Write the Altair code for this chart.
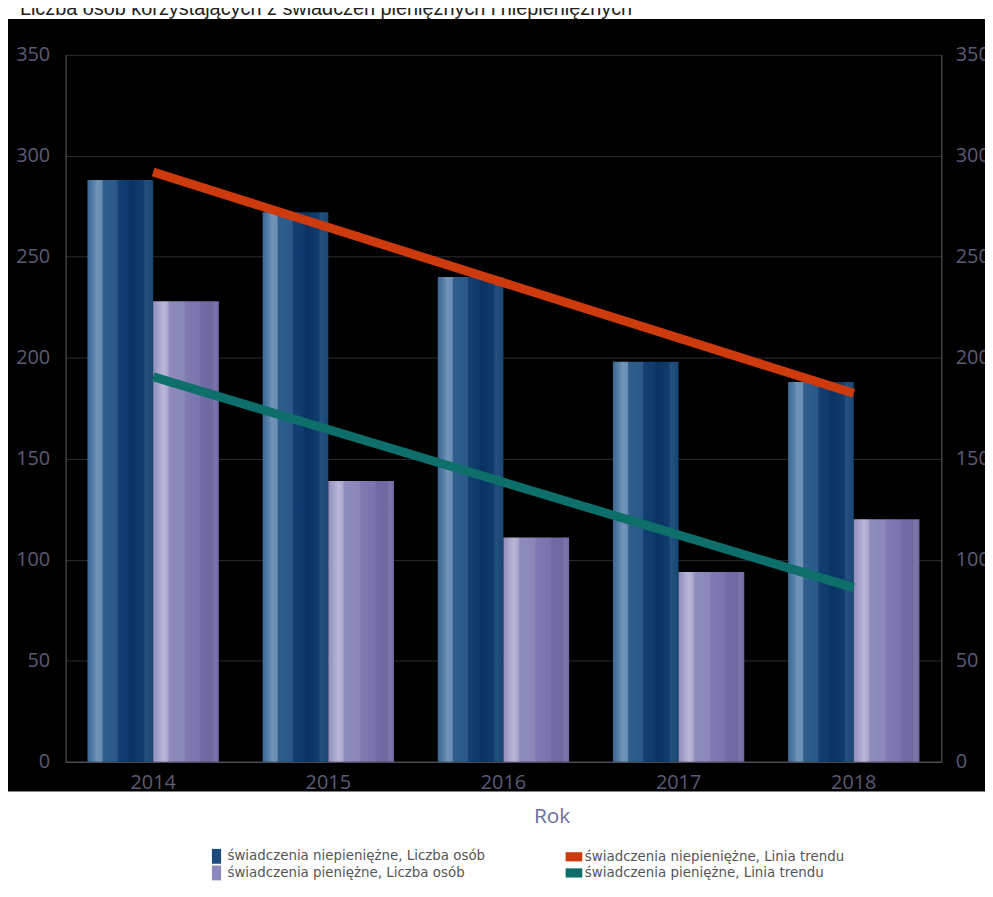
import altair as alt
import pandas as pd

# ---- data ----
years = ["2014", "2015", "2016", "2017", "2018"]
niepieniezne = [288, 272, 240, 198, 188]
pieniezne = [228, 139, 111, 94, 120]

S_NIEP = "świadczenia niepieniężne, Liczba osób"
S_PIEN = "świadczenia pieniężne, Liczba osób"
T_NIEP = "świadczenia niepieniężne, Linia trendu"
T_PIEN = "świadczenia pieniężne, Linia trendu"

legend_order = [S_NIEP, S_PIEN, T_NIEP, T_PIEN]
legend_colors = ["#1d4a7c", "#8c8abf", "#cc3a0e", "#0d6e6a"]
TALL = "M-0.66,-1.07H0.66V1.07H-0.66Z"
WIDE = "M-1.2,-0.66H1.2V0.66H-1.2Z"
legend_shapes = [TALL, TALL, WIDE, WIDE]

TITLE = "Liczba osób korzystających z świadczeń pieniężnych i niepieniężnych"

rows = []
for y, a, b in zip(years, niepieniezne, pieniezne):
    rows.append({"rok": y, "seria": S_NIEP, "value": a})
    rows.append({"rok": y, "seria": S_PIEN, "value": b})
df = pd.DataFrame(rows)
legend_df = pd.DataFrame({"seria": legend_order})

W, H = 882, 712

x_scale = alt.Scale(domain=years, paddingInner=0.25, paddingOuter=0.125)
y_scale = alt.Scale(domain=[0, 350], nice=False)
off_scale = alt.Scale(domain=[S_NIEP, S_PIEN], paddingInner=0, paddingOuter=0)

LABEL_COLOR = "#5b5b73"
DOMAIN_COLOR = "#62626e"
x_axis = alt.Axis(title=None, ticks=False, grid=False, domain=True, domainColor=DOMAIN_COLOR,
                  labelColor=LABEL_COLOR, labelFont="Open Sans", labelFontSize=20,
                  labelPadding=11, labelAngle=0)
y_left = alt.Axis(title=None, values=[0, 50, 100, 150, 200, 250, 300, 350], ticks=False,
                  grid=True, gridColor="#2c2c34", gridWidth=1, domain=True, domainColor=DOMAIN_COLOR,
                  labelColor=LABEL_COLOR, labelFont="Open Sans", labelFontSize=20, labelPadding=16)
y_right = alt.Axis(title=None, orient="right", values=[0, 50, 100, 150, 200, 250, 300, 350],
                   ticks=False, grid=False, domain=True, domainColor=DOMAIN_COLOR,
                   labelColor=LABEL_COLOR, labelFont="Open Sans", labelFontSize=20, labelPadding=14)


def stops(pairs):
    return [alt.GradientStop(offset=o, color=c) for o, c in pairs]


dark_grad = alt.Gradient(gradient="linear", x1=0, x2=1, y1=0, y2=0, stops=stops([
    (0.0, "#3a6793"), (0.10, "#5a82ab"), (0.14, "#7394b8"), (0.22, "#6a8db3"), (0.24, "#2f5e8d"),
    (0.45, "#2a5888"), (0.47, "#143f72"), (0.62, "#0d396c"), (0.66, "#0a3263"),
    (0.85, "#103c6d"), (0.88, "#23507f"), (1.0, "#1a4674")]))
light_grad = alt.Gradient(gradient="linear", x1=0, x2=1, y1=0, y2=0, stops=stops([
    (0.0, "#8e8dbd"), (0.10, "#aaa9cf"), (0.16, "#b8b8d8"), (0.22, "#a9a8cd"), (0.25, "#8e8cbd"),
    (0.47, "#8a87ba"), (0.50, "#7f7bb2"), (0.70, "#7a76ad"), (0.73, "#716ca4"),
    (0.90, "#6e69a1"), (0.93, "#7c78ad"), (1.0, "#6f6aa0")]))

base = alt.Chart(df)

bars_niep = base.transform_filter(alt.datum.seria == S_NIEP).mark_bar(fill=dark_grad).encode(
    x=alt.X("rok:N", scale=x_scale, axis=x_axis),
    xOffset=alt.XOffset("seria:N", scale=off_scale),
    y=alt.Y("value:Q", scale=y_scale, axis=y_left),
)
bars_pien = base.transform_filter(alt.datum.seria == S_PIEN).mark_bar(fill=light_grad).encode(
    x=alt.X("rok:N", scale=x_scale, axis=x_axis),
    xOffset=alt.XOffset("seria:N", scale=off_scale),
    y=alt.Y("value:Q", scale=y_scale, axis=None),
)


def trend(series, color, axis):
    return (base.transform_filter(alt.datum.seria == series)
            .transform_calculate(yearNum="toNumber(datum.rok)")
            .transform_regression("yearNum", "value")
            .transform_filter("datum.yearNum % 1 == 0")
            .transform_calculate(rok="toString(datum.yearNum)")
            .mark_line(color=color, strokeWidth=9, strokeCap="butt")
            .encode(x=alt.X("rok:N", scale=x_scale, axis=x_axis),
                    y=alt.Y("value:Q", scale=y_scale, axis=axis)))


trend_niep = trend(S_NIEP, "#cc3a0e", y_right)
trend_pien = trend(S_PIEN, "#0d6e6a", None)

one = alt.Data(values=[{"a": 1}])
white_top = alt.Chart(one).mark_rect(color="white").encode(
    x=alt.value(-70), x2=alt.value(W + 60), y=alt.value(-60), y2=alt.value(-36))
white_bottom = alt.Chart(one).mark_rect(color="white").encode(
    x=alt.value(-70), x2=alt.value(W + 60), y=alt.value(H + 30), y2=alt.value(H + 200))

title_txt = alt.Chart(one).mark_text(text=TITLE, align="left", baseline="alphabetic",
                                     font="Liberation Sans", fontSize=20, color="#222222").encode(
    x=alt.value(-46), y=alt.value(-40))
rok_txt = alt.Chart(one).mark_text(text="Rok", align="center", baseline="alphabetic",
                                   font="Open Sans", fontSize=21, color="#6e7099").encode(
    x=alt.value(490), y=alt.value(774))

legend_pts = alt.Chart(legend_df).mark_point(filled=True, opacity=1).encode(
    x=alt.value(-500), y=alt.value(-500),
    color=alt.Color("seria:N", scale=alt.Scale(domain=legend_order, range=legend_colors),
                    sort=legend_order,
                    legend=alt.Legend(title=None, orient="none", legendX=145, legendY=800,
                                      columns=2, columnPadding=80, rowPadding=1,
                                      symbolSize=196, symbolStrokeWidth=0, symbolOpacity=1,
                                      labelFont="DejaVu Sans", labelFontSize=13.5,
                                      labelColor="#555555", labelOffset=4, padding=0,
                                      labelLimit=400)),
    shape=alt.Shape("seria:N", scale=alt.Scale(domain=legend_order, range=legend_shapes),
                    sort=legend_order, legend=None),
)

chart = alt.layer(
    bars_niep, bars_pien, trend_niep, trend_pien,
    white_top, white_bottom, title_txt, rok_txt, legend_pts,
).resolve_axis(y="independent").properties(
    width=W, height=H,
    autosize=alt.AutoSizeParams(type="none"),
    padding={"left": 58, "top": 44, "right": 44, "bottom": 120},
    background="black",
).configure_view(strokeWidth=0)

chart.save("out.html", embed_options={"renderer": "svg", "actions": False})
